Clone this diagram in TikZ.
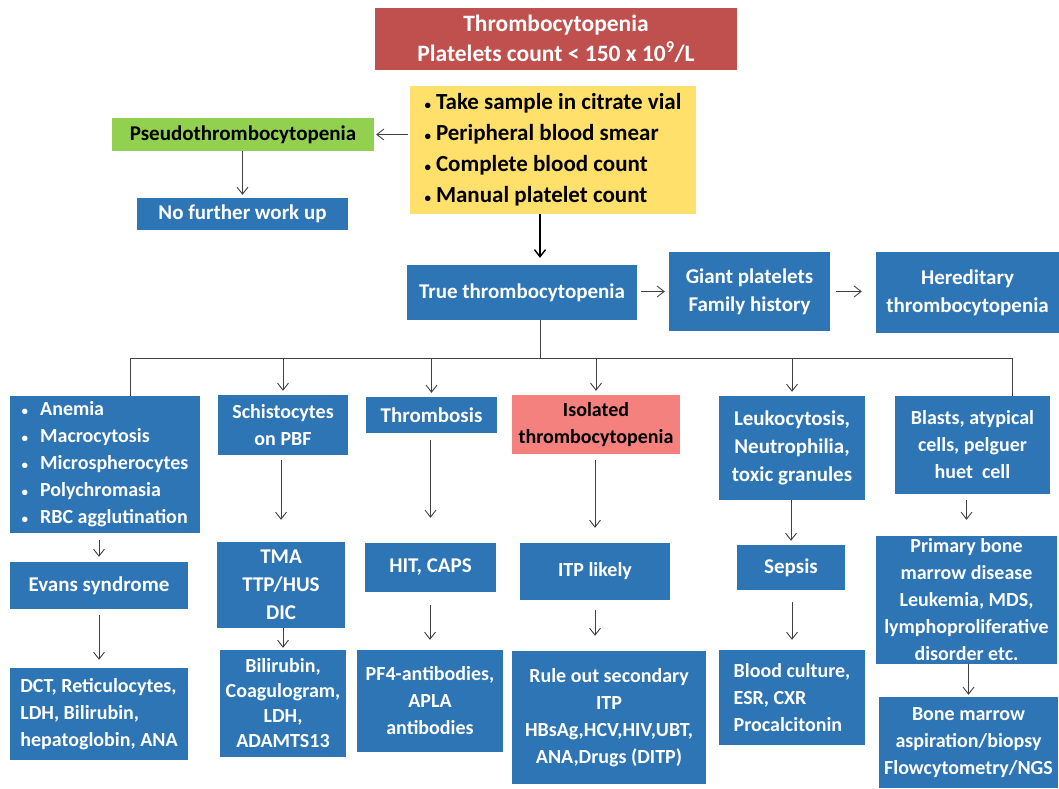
\documentclass[tikz,border=0pt]{standalone}
\usepackage{fontspec}
\setmainfont{Carlito}
\usetikzlibrary{arrows.meta}

\definecolor{boxblue}{HTML}{2E75B6}
\definecolor{titlered}{HTML}{C0504D}
\definecolor{stepyellow}{HTML}{FFE06B}
\definecolor{pseudogreen}{HTML}{92D050}
\definecolor{isopink}{HTML}{F4817E}
\definecolor{linegray}{HTML}{404040}

\newcommand{\dotmark}{{\fontsize{13}{13}\selectfont\textbullet}}

\tikzset{
  Box/.style = {fill=boxblue, text=white, inner sep=0pt, align=center,
                font=\bfseries\fontsize{20}{27}\selectfont},
  BigBox/.style = {Box, font=\bfseries\fontsize{21}{28}\selectfont},
  BusStyle/.style = {draw=linegray, line width=0.9pt},
  EdgeStyle/.style = {BusStyle, -{Straight Barb[length=7pt,width=11pt]}},
}

\begin{document}
\begin{tikzpicture}[x=1pt, y=-1pt]
    \useasboundingbox (0,0) rectangle (1059,788);

    % Top part
    \node[Box, fill=titlered, minimum width=362pt, minimum height=62pt,
          font=\bfseries\fontsize{23.5}{30}\selectfont] (title) at (556,39)
          {Thrombocytopenia\\Platelets count < 150 x 10\textsuperscript{9}/L};
    \node[Box, fill=stepyellow, text=black, align=left, minimum width=286pt, minimum height=128pt,
          font=\bfseries\fontsize{23}{31}\selectfont] (steps) at (553,150)
          {\dotmark\hspace{5pt}Take sample in citrate vial\\\dotmark\hspace{5pt}Peripheral blood smear\\
           \dotmark\hspace{5pt}Complete blood count\\\dotmark\hspace{5pt}Manual platelet count};
    \node[BigBox, fill=pseudogreen, text=black, minimum width=262pt, minimum height=33pt] (pseudo) at (243,134.5) {Pseudothrombocytopenia};
    \node[BigBox, minimum width=211pt, minimum height=32pt] (nowork) at (242.5,214) {No further work up};
    \node[BigBox, minimum width=230pt, minimum height=55pt] (truet) at (522,292.5) {True thrombocytopenia};
    \node[BigBox, minimum width=161pt, minimum height=79pt] (giant) at (749.5,291.5) {Giant platelets\\Family history};
    \node[BigBox, minimum width=183pt, minimum height=81pt] (hered) at (967.5,292.5) {Hereditary\\thrombocytopenia};

    % Second row
    \node[Box, align=left, minimum width=190pt, minimum height=137pt] (anemia) at (105,464.5)
          {\dotmark\hspace{12pt}Anemia\\\dotmark\hspace{12pt}Macrocytosis\\\dotmark\hspace{12pt}Microspherocytes\\
           \dotmark\hspace{12pt}Polychromasia\\\dotmark\hspace{12pt}RBC agglutination};
    \node[Box, minimum width=130pt, minimum height=60pt] (schist) at (283,425) {Schistocytes\\on PBF};
    \node[BigBox, minimum width=131pt, minimum height=36pt] (thromb) at (431.5,415) {Thrombosis};
    \node[Box, fill=isopink, text=black, minimum width=168pt, minimum height=59pt] (isol) at (596,424.5) {Isolated\\thrombocytopenia};
    \node[BigBox, minimum width=146pt, minimum height=104pt] (leuko) at (792,448) {Leukocytosis,\\Neutrophilia,\\toxic granules};
    \node[Box, minimum width=155pt, minimum height=98pt] (blasts) at (972.5,445) {Blasts, atypical\\cells, pelguer\\huet\ \ cell};

    % Third row
    \node[BigBox, minimum width=178pt, minimum height=47pt] (evans) at (99,585.5) {Evans syndrome};
    \node[BigBox, minimum width=128pt, minimum height=86pt] (tma) at (281,585) {TMA\\TTP/HUS\\DIC};
    \node[BigBox, minimum width=131pt, minimum height=49pt] (hit) at (430.5,567.5) {HIT, CAPS};
    \node[Box, minimum width=150pt, minimum height=57pt] (itp) at (595,571.5) {ITP likely};
    \node[BigBox, minimum width=108pt, minimum height=45pt] (sepsis) at (791,567.5) {Sepsis};
    \node[Box, minimum width=181pt, minimum height=128pt] (primary) at (966.5,600)
          {Primary bone\\marrow disease\\Leukemia, MDS,\\lymphoproliferative\\disorder etc.};

    % Bottom row
    \node[Box, align=left, minimum width=178pt, minimum height=92pt] (dct) at (99,714)
          {DCT, Reticulocytes,\\LDH, Bilirubin,\\hepatoglobin, ANA};
    \node[Box, font=\bfseries\fontsize{20}{25}\selectfont, minimum width=126pt, minimum height=107pt] (bili) at (283,703.5)
          {Bilirubin,\\Coagulogram,\\LDH,\\ADAMTS13};
    \node[Box, minimum width=146pt, minimum height=102pt] (pf4) at (430,701) {PF4-antibodies,\\APLA\\antibodies};
    \node[Box, minimum width=194pt, minimum height=133pt] (ruleout) at (609,717.5)
          {Rule out secondary\\ITP\\HBsAg,HCV,HIV,UBT,\\ANA,Drugs (DITP)};
    \node[Box, align=left, minimum width=146pt, minimum height=95pt] (blood) at (792,697.5)
          {Blood culture,\\ESR, CXR\\Procalcitonin};
    \node[Box, minimum width=179pt, minimum height=91pt] (bonem) at (968.5,742.5)
          {Bone marrow\\aspiration/biopsy\\Flowcytometry/NGS};

    % Edges
    \coordinate (split) at (540,358);
    \coordinate (anemia in) at ([xshift=25pt]anemia.north);
    \coordinate (blasts in) at ([xshift=40pt]blasts.north);

    \draw[EdgeStyle, draw=black, line width=1.4pt, shorten >=7pt] (steps.south -| split) -- (truet.north -| split);
    \draw[EdgeStyle, shorten <=2pt, shorten >=2pt] (steps.west |- pseudo) -- (pseudo.east);
    \draw[EdgeStyle, shorten >=3pt] (pseudo.south -| nowork.north) -- (nowork.north);
    \draw[EdgeStyle, shorten <=4pt, shorten >=4pt] (truet.east |- giant) -- (giant.west);
    \draw[EdgeStyle, shorten <=6pt, shorten >=14pt] (giant.east) -- (hered.west |- giant);

    \draw[BusStyle] (truet.south -| split) -- (split);
    \draw[BusStyle] (split -| anemia in) -- (split -| blasts in);
    \draw[BusStyle] (split -| anemia in) -- (anemia in);
    \draw[BusStyle] (split -| blasts in) -- (blasts in);
    \foreach \n in {schist, thromb, isol, leuko}
        \draw[EdgeStyle, shorten >=4pt] (split -| \n.north) -- (\n.north);

    \foreach \src/\dst/\gapa/\gapb in {anemia/evans/7/5, evans/dct/6/8, schist/tma/5/22, tma/bili/0/2,
        thromb/hit/7/25, hit/pf4/13/10, isol/itp/6/15, leuko/sepsis/0/4, sepsis/blood/12/10,
        blasts/primary/6/16, primary/bonem/0/2}
        \draw[EdgeStyle, shorten <=\gapa pt, shorten >=\gapb pt] (\src.south -| \dst.north) -- (\dst.north);
    \draw[EdgeStyle, shorten <=10pt, shorten >=15pt] (itp.south) -- (itp.south |- ruleout.north);

\end{tikzpicture}
\end{document}
